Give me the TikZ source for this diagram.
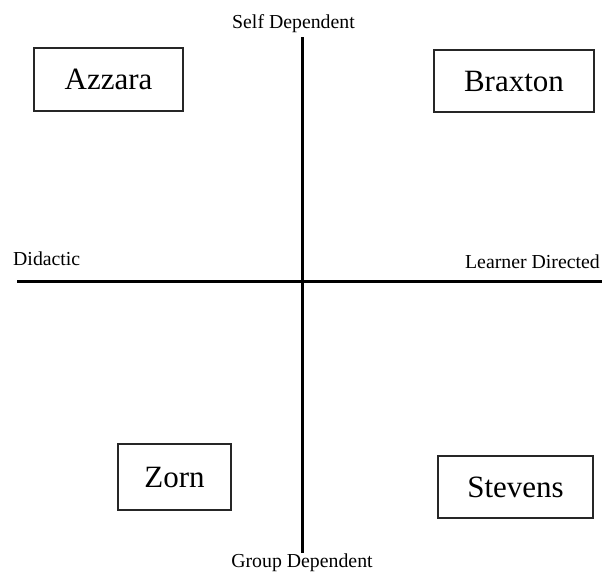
\documentclass[tikz,border=0pt]{standalone}
\usepackage{fontspec}
\setmainfont{Liberation Serif}
\begin{document}
\begin{tikzpicture}[x=1pt,y=-1pt,
  box/.style={draw=black!85, line width=1.3pt, inner sep=0pt, font=\fontsize{31}{31}\selectfont},
  axislabel/.style={inner sep=0pt, font=\fontsize{19.8}{20}\selectfont},
  axis/.style={line width=3pt, black}]
\useasboundingbox (0,0) rectangle (603,571);
% axes
\coordinate (vtop) at (302,37);
\coordinate (vbot) at (302,553);
\coordinate (hleft) at (17,281);
\coordinate (hright) at (602,281);
\draw[axis] (vtop) -- (vbot);
\draw[axis] (hleft) -- (hright);
% axis labels
\node[axislabel, anchor=base] (self) at (293.5,28) {Self Dependent};
\node[axislabel, anchor=base] (group) at (302,567) {Group Dependent};
\node[axislabel, anchor=base west] (did) at (13,265) {Didactic};
\node[axislabel, anchor=base east] (learn) at (600,268) {Learner Directed};
% boxes
\node[box, minimum width=149pt, minimum height=63pt] (azz) at (108.5,79.5) {Azzara};
\node[box, minimum width=160pt, minimum height=62pt] (bra) at (514,81) {Braxton};
\node[box, minimum width=113pt, minimum height=66pt] (zor) at (174.5,477) {Zorn};
\node[box, minimum width=155pt, minimum height=62pt] (ste) at (515.5,487) {Stevens};
\end{tikzpicture}
\end{document}
